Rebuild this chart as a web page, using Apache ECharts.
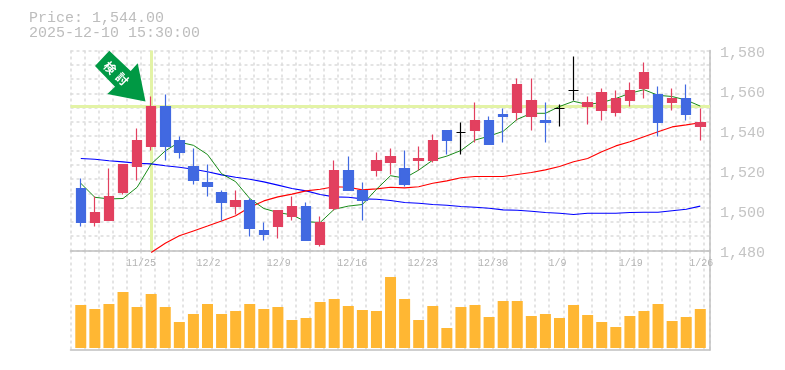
<!DOCTYPE html>
<html>
<head>
<meta charset="utf-8">
<style>html,body{margin:0;padding:0;background:#fff}#c{width:785px;height:370px}</style>
<script src="https://cdn.jsdelivr.net/npm/echarts@6/dist/echarts.min.js"></script>
</head>
<body>
<div id="c"></div>
<script>
const opens  = [1511,1494,1495,1509,1522,1532,1552,1535,1522,1514,1509,1502,1505,1490,1492,1497,1502,1483,1501,1520,1510,1520,1524,1521,1525,1525,1540,1539,1540,1545,1548,1549,1547,1545,1551,1560,1552,1550,1549,1555,1561,1558,1554,1556,1542];
const closes = [1494,1499,1507,1523,1535,1552,1532,1529,1515,1512,1504,1505,1491,1488,1500,1502,1485,1494,1520,1510,1505,1525,1527,1513,1526,1535,1535,1539,1545,1533,1547,1563,1555,1544,1551,1560,1554,1559,1556,1560,1569,1544,1556,1548,1544];
const lows   = [1492,1492,1495,1508,1515,1530,1525,1526,1513,1507,1495,1498,1487,1485,1486,1495,1485,1482,1500,1510,1495,1517,1518,1512,1520,1524,1528,1528,1534,1533,1534,1545,1540,1534,1542,1555,1543,1545,1547,1552,1556,1537,1550,1545,1535];
const highs  = [1516,1507,1521,1523,1541,1557,1558,1537,1531,1523,1510,1510,1506,1494,1500,1507,1504,1497,1525,1527,1514,1529,1531,1530,1532,1538,1540,1544,1554,1547,1551,1566,1566,1554,1553,1577,1557,1561,1560,1564,1574,1562,1561,1563,1551];
const ma5  = [1513.6,1506.6,1505.8,1506,1511.6,1523.2,1529.8,1534.2,1532.6,1528,1518.4,1514.4,1506,1501,1499,1497.8,1494.4,1494,1500.6,1502.2,1503,1510.6,1517.4,1516.2,1520.2,1525.2,1527.2,1530,1535.2,1537.2,1539.6,1545.6,1548.6,1548.6,1552,1554.6,1553,1554,1556,1558.6,1560.4,1557.6,1557,1555.2,1552.2];
const ma25 = [null,null,null,null,null,1479,1483.6,1487.4,1489.8,1492.2,1494.8,1497.4,1501.6,1504.8,1506.8,1508.2,1509.8,1510.6,1511.9,1511.6,1510.3,1510.8,1511.6,1511.3,1511.9,1513.6,1514.8,1516.4,1517,1517,1517,1518,1519,1520.3,1522,1524.4,1526,1529.4,1532.3,1534.4,1536.9,1539.4,1541.8,1542.8,1543.9];
const ma75 = [1526,1525.6,1524.9,1524.3,1523.6,1523.3,1522.4,1521.6,1520.6,1519.4,1517.8,1516.6,1515.6,1514.3,1512.7,1511,1509.8,1508,1506.8,1506.6,1505.8,1505.6,1505,1504,1503.6,1503,1502.6,1502,1501.6,1501.1,1500.3,1500.1,1499.6,1499,1498.6,1498,1498.6,1498.6,1498.6,1499,1499.1,1499.1,1499.9,1500.6,1502.2];
const volumes = [43,39,44,56,41,54,41,26,34,44,34,37,44,39,41,28,30,46,49,42,38,37,71,49,28,42,20,41,43,31,47,47,32,34,30,43,33,26,21,32,37,44,27,31,39];
const tickBars = [4,9,14,19,24,29,34,39,44];
const tickLabels = ['11/25','12/2','12/9','12/16','12/23','12/30','1/9','1/19','1/26'];
const priceTicks = [1480,1500,1520,1540,1560,1580];
const crossBar = 5;
const crossPrice = 1552;
const lastPrice = '1,544.00';
const stamp = '2025-12-10 15:30:00';

const mono = '"Liberation Mono", monospace';
const grey = '#c0c0c0';
const gridLine = {show:true, lineStyle:{color:'#dcdcdc', width:1.5, type:[3,3]}};
const off = {show:false};
const labelShift = 0.785;
const xMin = -0.73, xMax = 44.69;

const candles = opens.map((o,i)=>[i,o,closes[i],lows[i],highs[i]]);
const indexed = a => a.map((v,i)=>[i,v]);
const lineSeries = (data,color,width) => ({
  type:'line', data:indexed(data), xAxisIndex:0, yAxisIndex:0, symbol:'none', showSymbol:false,
  clip:false, z:2, silent:true, animation:false, connectNulls:false,
  lineStyle:{color,width}
});

const chart = echarts.init(document.getElementById('c'), null, {renderer:'canvas'});
chart.setOption({
  animation:false,
  backgroundColor:'#fff',
  title:{text:'Price: '+lastPrice+'\n'+stamp, left:24, top:6,
    textStyle:{fontFamily:mono,fontSize:15,lineHeight:15,fontWeight:'normal',color:'#bdbdbd'}},
  grid:[
    {left:70.5, right:75, top:50.5, height:200},
    {left:70.5, right:75, top:250.5, height:99.5}
  ],
  xAxis:[
    {type:'value', gridIndex:0, min:xMin, max:xMax, position:'bottom',
      axisLine:{show:true,onZero:false,lineStyle:{color:grey,width:1.5}}, axisTick:off, splitLine:off,
      axisLabel:{customValues:tickBars.map(b=>b-labelShift), align:'left', margin:8, fontFamily:mono, fontSize:10, color:'#b4b4b4',
        formatter:v=>tickLabels[tickBars.indexOf(Math.round(v+labelShift))]}},
    {type:'value', gridIndex:0, min:0, max:45.42, interval:1, position:'top',
      axisLine:off, axisTick:off, axisLabel:off, splitLine:gridLine},
    {type:'value', gridIndex:1, min:xMin, max:xMax, position:'bottom',
      axisLine:{show:true,onZero:false,lineStyle:{color:grey,width:1.5}}, axisTick:off, axisLabel:off, splitLine:off},
    {type:'value', gridIndex:1, min:0, max:45.42, interval:1, position:'top',
      axisLine:off, axisTick:off, axisLabel:off, splitLine:gridLine}
  ],
  yAxis:[
    {type:'value', gridIndex:0, min:1480, max:1580, interval:20, position:'right',
      axisLine:{show:true,onZero:false,lineStyle:{color:grey,width:1.5}}, axisTick:off, splitLine:off,
      axisLabel:{margin:10, fontFamily:mono, fontSize:15, color:'#c4c4c4', verticalAlign:'top', lineHeight:6,
        formatter:v=>v.toLocaleString('en-US')}},
    {type:'value', gridIndex:0, min:0, max:196, interval:14, inverse:true, position:'left',
      axisLine:off, axisTick:off, axisLabel:off, splitLine:gridLine},
    {type:'value', gridIndex:1, min:-2, max:97.5, position:'right',
      axisLine:{show:true,onZero:false,lineStyle:{color:grey,width:1.5}}, axisTick:off, axisLabel:off, splitLine:off}
  ],
  series:[
    lineSeries(ma75,'#0000ff',1.1),
    lineSeries(ma25,'#ff0000',1.1),
    lineSeries(ma5,'#007f00',0.9),
    {type:'candlestick', data:candles, xAxisIndex:0, yAxisIndex:0, barWidth:10, z:3, silent:true,
      clip:false,
      itemStyle:{color:'#e2405f',color0:'#4169e1',borderColor:'#e2405f',borderColor0:'#4169e1',borderColorDoji:'#000000',borderWidth:1.2},
      markLine:{silent:true, symbol:'none', z:1, animation:false, label:off,
        lineStyle:{color:'#e3f3a6',width:3,type:'solid'},
        data:[{xAxis:crossBar},{yAxis:crossPrice}]}
    },
    {type:'bar', data:indexed(volumes), xAxisIndex:2, yAxisIndex:2, barWidth:11, z:3, silent:true,
      itemStyle:{color:'#ffb733'}}
  ],
  graphic:[
    {type:'polygon', z:20, silent:true,
      shape:{points:[[109.3,50.7],[95,66],[115,86.7],[107.3,94],[145.5,101.5],[137.7,63.3],[130.7,71]]},
      style:{fill:'#009944'}},
    {type:'text', z:21, silent:true, x:110, y:67.7, rotation:-Math.PI/4,
      style:{text:'検',fill:'#fff',font:'bold 12px "Noto Sans CJK JP"',align:'center',verticalAlign:'middle'}},
    {type:'text', z:21, silent:true, x:122.3, y:79, rotation:-Math.PI/4,
      style:{text:'討',fill:'#fff',font:'bold 12px "Noto Sans CJK JP"',align:'center',verticalAlign:'middle'}}
  ]
});
</script>
</body>
</html>
